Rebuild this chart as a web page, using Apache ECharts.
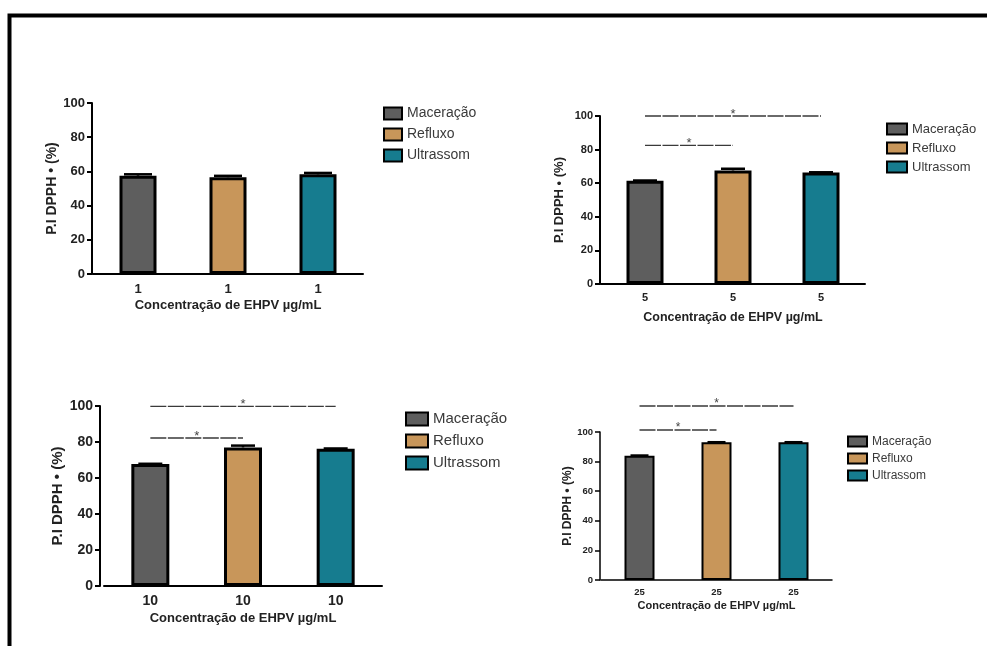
<!DOCTYPE html>
<html>
<head>
<meta charset="utf-8">
<script src="https://cdn.jsdelivr.net/npm/echarts@6/dist/echarts.min.js"></script>
<style>
html,body{margin:0;padding:0;background:#fff;}
#chart{width:987px;height:646px;}
</style>
</head>
<body>
<div id="chart"></div>
<script>
// ---- data ----
const groups = ['Maceração', 'Refluxo', 'Ultrassom'];
const p1Labels = ['1', '1', '1'];
const p2Labels = ['5', '5', '5'];
const p3Labels = ['10', '10', '10'];
const p4Labels = ['25', '25', '25'];
const p1Means = [57.5, 56.6, 58.3];
const p1Err = [0.8, 0.8, 0.8];
const p2Means = [61.5, 67.6, 66.4];
const p2Err = [0.1, 1.0, 0.1];
const p3Means = [67.8, 77.0, 76.3];
const p3Err = [0.1, 1.0, 0.1];
const p4Means = [84.0, 93.0, 93.0];
const p4Err = [0.1, 0.1, 0.1];
// significance brackets: [fromIndex, toIndex, yValue]
const p2Sig = [[0, 1, 82.5], [0, 2, 100]];
const p3Sig = [[0, 1, 82.2], [0, 2, 99.8]];
const p4Sig = [[0, 1, 101.4], [0, 2, 117.6]];
const yTicksMax = 100;
const xName = 'Concentração de EHPV µg/mL';
const yName = 'P.I DPPH • (%)';

// ---- styling / layout ----
const FONT = 'Liberation Sans, Arial, sans-serif';
const colors = ['#5e5e5e', '#c8965a', '#167c8f'];
const panels = [
  {labels: p1Labels, means: p1Means, err: p1Err, sig: null,
   grid: {left: 93, top: 103, width: 270, height: 171}, yOffset: 1,
   barWidth: 37, bw: 3, capW: 28, tickFont: 13, nameFont: 13, yNameFont: 14,
   xMargin: 9, xNameGap: 25, yNameGap: 27, axisW: 2,
   legend: {left: 383, top: 106, font: 14, iw: 18, ih: 12, gap: 6, lh: 15}},
  {labels: p2Labels, means: p2Means, err: p2Err, sig: p2Sig,
   grid: {left: 601, top: 116, width: 264, height: 168}, yOffset: 1,
   barWidth: 37, bw: 3, capW: 24, tickFont: 11, nameFont: 12.5, yNameFont: 13,
   xMargin: 8, xNameGap: 27, yNameGap: 34, axisW: 2, starFont: 13,
   legend: {left: 886, top: 122, font: 13, iw: 20, ih: 11, gap: 5, lh: 14}},
  {labels: p3Labels, means: p3Means, err: p3Err, sig: p3Sig,
   grid: {left: 104, top: 406, width: 278, height: 180}, yOffset: 4,
   barWidth: 38, bw: 3, capW: 24, tickFont: 14, nameFont: 13, yNameFont: 15,
   xMargin: 8, xNameGap: 26, yNameGap: 27, axisW: 2, starFont: 13,
   legend: {left: 405, top: 411, font: 15, iw: 22, ih: 13, gap: 6, lh: 16}},
  {labels: p4Labels, means: p4Means, err: p4Err, sig: p4Sig,
   grid: {left: 601, top: 432, width: 231, height: 148}, yOffset: 1,
   barWidth: 30, bw: 2, capW: 18, tickFont: 9.5, nameFont: 11, yNameFont: 12,
   xMargin: 7, xNameGap: 20, yNameGap: 22, axisW: 1.5, starFont: 12,
   legend: {left: 847, top: 435, font: 12, iw: 19, ih: 10, gap: 4, lh: 13}}
];

const grids = [], xAxes = [], yAxes = [], series = [], legends = [];
panels.forEach((p, i) => {
  grids.push(Object.assign({containLabel: false}, p.grid));
  xAxes.push({
    type: 'category', gridIndex: i, data: p.labels,
    name: xName, nameLocation: 'middle', nameGap: p.xNameGap,
    nameTextStyle: {fontFamily: FONT, fontSize: p.nameFont, fontWeight: 'bold', color: '#222'},
    axisLine: {lineStyle: {color: '#000', width: p.axisW}},
    axisTick: {alignWithLabel: true, length: 5, lineStyle: {color: '#000', width: p.axisW}},
    axisLabel: {fontFamily: FONT, fontSize: p.tickFont, fontWeight: 'bold', color: '#222', margin: p.xMargin},
    splitLine: {show: false}
  });
  yAxes.push({
    type: 'value', gridIndex: i, min: 0, max: yTicksMax, interval: 20, offset: p.yOffset,
    name: yName, nameLocation: 'middle', nameGap: p.yNameGap,
    nameTextStyle: {fontFamily: FONT, fontSize: p.yNameFont, fontWeight: 'bold', color: '#222'},
    axisLine: {show: true, lineStyle: {color: '#000', width: p.axisW}},
    axisTick: {show: true, length: 5, lineStyle: {color: '#000', width: p.axisW}},
    axisLabel: {fontFamily: FONT, fontSize: p.tickFont, fontWeight: 'bold', color: '#222', margin: 7},
    splitLine: {show: false}
  });
  groups.forEach((g, gi) => {
    series.push({
      type: 'bar', name: g, xAxisIndex: i, yAxisIndex: i, stack: 'p' + i,
      barWidth: p.barWidth,
      data: p.means.map((v, j) => j === gi ? v : '-'),
      itemStyle: {color: colors[gi], borderColor: '#000', borderWidth: p.bw},
      emphasis: {disabled: true}, silent: true, z: 2
    });
  });
  series.push({
    type: 'custom', xAxisIndex: i, yAxisIndex: i, silent: true, z: 3,
    data: p.means.map((v, j) => [j, v, p.err[j]]),
    encode: {x: 0, y: 1},
    renderItem: function (params, api) {
      const a = api.coord([api.value(0), api.value(1)]);
      const b = api.coord([api.value(0), api.value(1) + api.value(2)]);
      const h = p.capW / 2;
      return {type: 'group', children: [
        {type: 'line', shape: {x1: a[0], y1: a[1], x2: b[0], y2: b[1]}, style: {stroke: '#000', lineWidth: 2.5}},
        {type: 'line', shape: {x1: b[0] - h, y1: b[1], x2: b[0] + h, y2: b[1]}, style: {stroke: '#000', lineWidth: 2.5}}
      ]};
    }
  });
  if (p.sig) {
    series.push({
      type: 'custom', xAxisIndex: i, yAxisIndex: i, silent: true, clip: false, z: 4,
      data: p.sig,
      encode: {x: [0, 1], y: 2},
      renderItem: function (params, api) {
        const a = api.coord([api.value(0), api.value(2)]);
        const b = api.coord([api.value(1), api.value(2)]);
        return {type: 'group', children: [
          {type: 'line', shape: {x1: a[0], y1: a[1], x2: b[0], y2: b[1]},
           style: {stroke: '#3a3a3a', lineWidth: 1.4, lineDash: [16, 1.5]}},
          {type: 'text', style: {text: '*', x: (a[0] + b[0]) / 2, y: a[1] - 2, align: 'center',
           verticalAlign: 'middle', fontSize: p.starFont, fontFamily: FONT, fill: '#444'}}
        ]};
      }
    });
  }
  const L = p.legend;
  legends.push({
    data: groups, orient: 'vertical', left: L.left, top: L.top, padding: 0,
    itemWidth: L.iw, itemHeight: L.ih, itemGap: L.gap, selectedMode: false,
    icon: 'rect',
    itemStyle: {borderColor: '#000', borderWidth: 2},
    textStyle: {fontFamily: FONT, fontSize: L.font, color: '#3a3a3a', lineHeight: L.lh}
  });
});

const chart = echarts.init(document.getElementById('chart'), null, {renderer: 'canvas'});
chart.setOption({
  backgroundColor: '#fff',
  animation: false,
  graphic: [{type: 'rect', left: 7, top: 13, shape: {x: 0, y: 0, width: 1000, height: 700},
    style: {fill: 'none', stroke: '#000', lineWidth: 4}, silent: true}],
  grid: grids, xAxis: xAxes, yAxis: yAxes, legend: legends, series: series
});
</script>
</body>
</html>
